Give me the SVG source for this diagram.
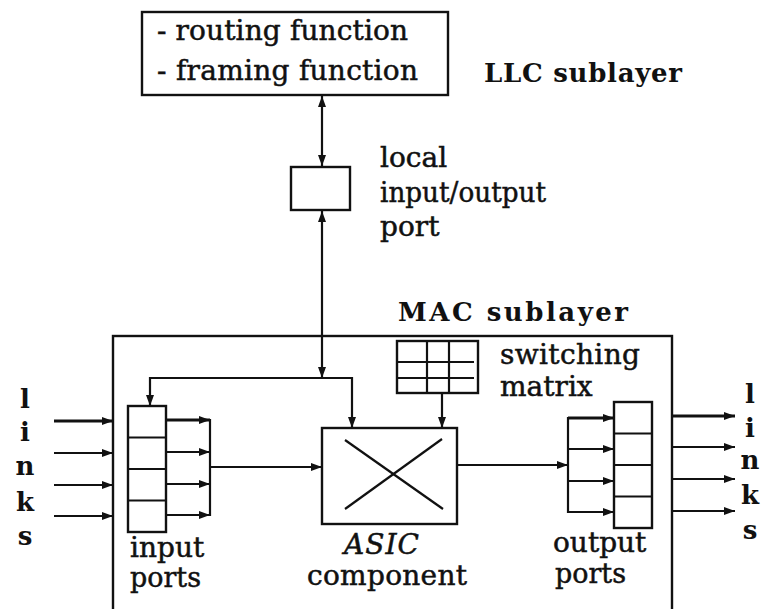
<svg xmlns="http://www.w3.org/2000/svg" width="778" height="609" viewBox="0 0 778 609">
<style>
.box{fill:#fff;stroke:#111;stroke-width:2.4}
.ln{fill:none;stroke:#111;stroke-width:2.2}
.thk{stroke-width:3.2}
.t{font-family:"DejaVu Serif","Liberation Serif",serif;font-size:28px;fill:#111;stroke:#111;stroke-width:0.5}
.b{font-family:"DejaVu Serif","Liberation Serif",serif;font-weight:bold;font-size:26px;fill:#111}
.it{font-style:italic}
</style>
<defs>
<marker id="ah" markerUnits="userSpaceOnUse" markerWidth="11" markerHeight="8" refX="11" refY="4" orient="auto-start-reverse">
<path d="M0,0 L11,4 L0,8 z" fill="#111"/>
</marker>
</defs>
<rect width="778" height="609" fill="#fff"/>

<g id="llc-box">
<rect class="box" x="142" y="12" width="306" height="83"/>
<text class="t" x="157" y="40" textLength="251" lengthAdjust="spacing">- routing function</text>
<text class="t" x="157" y="80" textLength="261" lengthAdjust="spacing">- framing function</text>
</g>
<g id="llc-label">
<text class="b" x="484" y="82" textLength="198" lengthAdjust="spacing">LLC sublayer</text>
</g>

<g id="local-port">
<rect class="box" x="291" y="167" width="59" height="43"/>
<text class="t" x="380" y="167">local</text>
<text class="t" x="380" y="202" textLength="166" lengthAdjust="spacingAndGlyphs">input/output</text>
<text class="t" x="380" y="236">port</text>
</g>

<g id="mac-box">
<rect class="box" x="113" y="336" width="559" height="290"/>
<text class="b" x="398" y="321" textLength="230" lengthAdjust="spacing">MAC  sublayer</text>
</g>

<g id="switching-matrix">
<rect class="box" x="397" y="341" width="81" height="52"/>
<line class="ln" x1="427" y1="341" x2="427" y2="393"/>
<line class="ln" x1="449" y1="341" x2="449" y2="393"/>
<line class="ln" x1="398" y1="362" x2="474" y2="362"/>
<line class="ln" x1="398" y1="378" x2="474" y2="378"/>
<text class="t" x="500" y="364" textLength="140" lengthAdjust="spacing">switching</text>
<text class="t" x="500" y="396">matrix</text>
</g>

<g id="asic">
<rect class="box" x="322" y="428" width="135" height="96"/>
<line class="ln" x1="345" y1="440" x2="443" y2="509"/>
<line class="ln" x1="442" y1="439" x2="345" y2="509"/>
<text class="t it" x="344" y="554" textLength="75" lengthAdjust="spacing">ASIC</text>
<text class="t" x="307" y="585" textLength="160" lengthAdjust="spacing">component</text>
</g>

<g id="input-ports">
<rect class="box" x="128" y="406" width="38" height="126"/>
<line class="ln" x1="128" y1="437.5" x2="166" y2="437.5"/>
<line class="ln" x1="128" y1="469" x2="166" y2="469"/>
<line class="ln" x1="128" y1="500.5" x2="166" y2="500.5"/>
<text class="t" x="130" y="557">input</text>
<text class="t" x="130" y="587" textLength="71" lengthAdjust="spacingAndGlyphs">ports</text>
</g>

<g id="output-ports">
<rect class="box" x="614" y="402" width="38" height="126"/>
<line class="ln" x1="614" y1="433.5" x2="652" y2="433.5"/>
<line class="ln" x1="614" y1="465" x2="652" y2="465"/>
<line class="ln" x1="614" y1="496.5" x2="652" y2="496.5"/>
<text class="t" x="553" y="552">output</text>
<text class="t" x="555" y="583" textLength="71" lengthAdjust="spacingAndGlyphs">ports</text>
</g>

<g id="links-left" class="b" font-size="24">
<text x="25" y="408" text-anchor="middle">l</text>
<text x="25" y="441" text-anchor="middle">i</text>
<text x="25" y="475" text-anchor="middle">n</text>
<text x="25" y="511" text-anchor="middle">k</text>
<text x="25" y="545" text-anchor="middle">s</text>
</g>
<g id="links-right" class="b" font-size="24">
<text x="750" y="403" text-anchor="middle">l</text>
<text x="750" y="437" text-anchor="middle">i</text>
<text x="750" y="469" text-anchor="middle">n</text>
<text x="750" y="504" text-anchor="middle">k</text>
<text x="750" y="539" text-anchor="middle">s</text>
</g>

<g id="connectors">
<line class="ln" x1="322" y1="96" x2="322" y2="166" marker-start="url(#ah)" marker-end="url(#ah)"/>
<line class="ln" x1="322" y1="211" x2="322" y2="378" marker-start="url(#ah)" marker-end="url(#ah)"/>
<polyline class="ln" points="150,406 150,378 352,378 352,428" marker-start="url(#ah)" marker-end="url(#ah)"/>
<line class="ln" x1="442" y1="393" x2="442" y2="428" marker-end="url(#ah)"/>

<line class="ln thk" x1="54" y1="421" x2="113" y2="421" marker-end="url(#ah)"/>
<line class="ln" x1="54" y1="453" x2="113" y2="453" marker-end="url(#ah)"/>
<line class="ln" x1="54" y1="485" x2="113" y2="485" marker-end="url(#ah)"/>
<line class="ln" x1="54" y1="516" x2="113" y2="516" marker-end="url(#ah)"/>

<line class="ln thk" x1="166" y1="420" x2="210" y2="420" marker-end="url(#ah)"/>
<line class="ln" x1="166" y1="452" x2="210" y2="452" marker-end="url(#ah)"/>
<line class="ln" x1="166" y1="484" x2="210" y2="484" marker-end="url(#ah)"/>
<line class="ln" x1="166" y1="515" x2="210" y2="515" marker-end="url(#ah)"/>
<line class="ln" x1="210" y1="419" x2="210" y2="516"/>
<line class="ln" x1="210" y1="467" x2="322" y2="467" marker-end="url(#ah)"/>

<line class="ln" x1="457" y1="465" x2="568" y2="465" marker-end="url(#ah)"/>
<line class="ln" x1="568" y1="417" x2="568" y2="513"/>
<line class="ln thk" x1="568" y1="418" x2="614" y2="418" marker-end="url(#ah)"/>
<line class="ln" x1="568" y1="449" x2="614" y2="449" marker-end="url(#ah)"/>
<line class="ln" x1="568" y1="481" x2="614" y2="481" marker-end="url(#ah)"/>
<line class="ln" x1="568" y1="512" x2="614" y2="512" marker-end="url(#ah)"/>

<line class="ln thk" x1="672" y1="416" x2="735" y2="416" marker-end="url(#ah)"/>
<line class="ln" x1="672" y1="447" x2="735" y2="447" marker-end="url(#ah)"/>
<line class="ln" x1="672" y1="479" x2="735" y2="479" marker-end="url(#ah)"/>
<line class="ln" x1="672" y1="511" x2="735" y2="511" marker-end="url(#ah)"/>
</g>
</svg>
